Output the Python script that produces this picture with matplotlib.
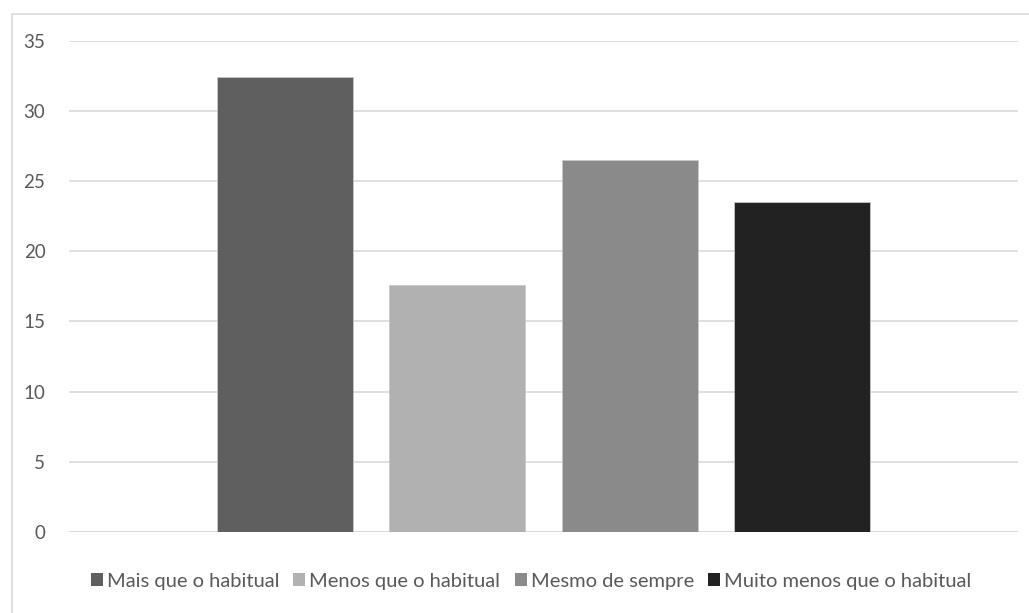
import matplotlib

matplotlib.use("Agg")
import matplotlib.pyplot as plt
from matplotlib.patches import Rectangle, Patch

# Responses (%) per answer option, single category
labels = ["Mais que o habitual", "Menos que o habitual", "Mesmo de sempre",
          "Muito menos que o habitual"]
values = [32.4, 17.6, 26.5, 23.5]
colors = ["#5f5f5f", "#b1b1b1", "#8a8a8a", "#222222"]
yticks = [0, 5, 10, 15, 20, 25, 30, 35]

TEXT = "#595959"
GRID = "#d9d9d9"

plt.rcParams["font.family"] = ["Lato", "DejaVu Sans"]

fig = plt.figure(figsize=(10.29, 6.13), dpi=100)
ax = fig.add_axes([69 / 1029, 1 - 531.7 / 613, 949 / 1029, 490.7 / 613])

# outer chart frame (left and top edges visible)
fig.patches.append(Rectangle((12 / 1029, -0.1), 1.2, 1 - 14 / 613 + 0.1,
                             transform=fig.transFigure, fill=False,
                             edgecolor="#d9d9d9", linewidth=1.2))

w = 0.1433
step = 0.1815
n = len(values)
for i, (lab, v, c) in enumerate(zip(labels, values, colors)):
    x = (i - (n - 1) / 2) * step
    ax.bar(x, v, width=w, color=c, edgecolor="#c8c8c8", linewidth=0.6,
           label=lab, zorder=3)

ax.set_xlim(-0.5, 0.5)
ax.set_ylim(0, 35)
ax.set_yticks(yticks)
ax.set_xticks([])
ax.yaxis.grid(True, color=GRID, linewidth=1.2, zorder=0)
ax.tick_params(axis="y", length=0, pad=17, labelsize=13.5, labelcolor=TEXT)
for s in ax.spines.values():
    s.set_visible(False)
ax.axhline(0, color=GRID, linewidth=1.2, zorder=1)

handles = [Patch(facecolor=c, label=l) for c, l in zip(colors, labels)]
fig.legend(handles=handles, loc="center", bbox_to_anchor=(531 / 1029, 1 - 581 / 613),
           ncol=4, frameon=False, fontsize=14.5, labelcolor=TEXT,
           handlelength=0.6, handleheight=0.6, handletextpad=0.2,
           columnspacing=0.7)

fig.savefig("out.png", dpi=100)
